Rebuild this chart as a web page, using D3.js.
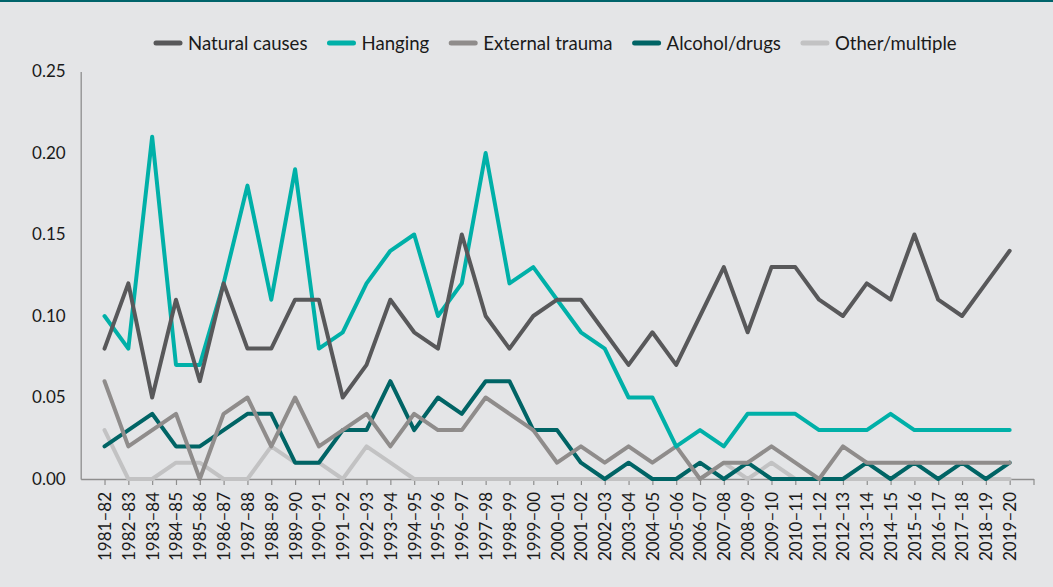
<!DOCTYPE html>
<html>
<head>
<meta charset="utf-8">
<script src="https://cdn.jsdelivr.net/npm/d3@7"></script>
<style>
  html, body { margin: 0; padding: 0; background: #e4e5e7; }
  svg { display: block; }
  text { font-family: Lato, "Liberation Sans", sans-serif; fill: #1a1a1a; }
</style>
</head>
<body>
<svg id="chart" width="1053" height="587"></svg>
<script>
const categories = ["1981–82","1982–83","1983–84","1984–85","1985–86","1986–87","1987–88","1988–89","1989–90","1990–91",
  "1991–92","1992–93","1993–94","1994–95","1995–96","1996–97","1997–98","1998–99","1999–00","2000–01",
  "2001–02","2002–03","2003–04","2004–05","2005–06","2006–07","2007–08","2008–09","2009–10","2010–11",
  "2011–12","2012–13","2013–14","2014–15","2015–16","2016–17","2017–18","2018–19","2019–20"];

const naturalCauses = [0.08,0.12,0.05,0.11,0.06,0.12,0.08,0.08,0.11,0.11,
  0.05,0.07,0.11,0.09,0.08,0.15,0.10,0.08,0.10,0.11,
  0.11,0.09,0.07,0.09,0.07,0.10,0.13,0.09,0.13,0.13,
  0.11,0.10,0.12,0.11,0.15,0.11,0.10,0.12,0.14];
const hanging = [0.10,0.08,0.21,0.07,0.07,0.12,0.18,0.11,0.19,0.08,
  0.09,0.12,0.14,0.15,0.10,0.12,0.20,0.12,0.13,0.11,
  0.09,0.08,0.05,0.05,0.02,0.03,0.02,0.04,0.04,0.04,
  0.03,0.03,0.03,0.04,0.03,0.03,0.03,0.03,0.03];
const externalTrauma = [0.06,0.02,0.03,0.04,0.00,0.04,0.05,0.02,0.05,0.02,
  0.03,0.04,0.02,0.04,0.03,0.03,0.05,0.04,0.03,0.01,
  0.02,0.01,0.02,0.01,0.02,0.00,0.01,0.01,0.02,0.01,
  0.00,0.02,0.01,0.01,0.01,0.01,0.01,0.01,0.01];
const alcoholDrugs = [0.02,0.03,0.04,0.02,0.02,0.03,0.04,0.04,0.01,0.01,
  0.03,0.03,0.06,0.03,0.05,0.04,0.06,0.06,0.03,0.03,
  0.01,0.00,0.01,0.00,0.00,0.01,0.00,0.01,0.00,0.00,
  0.00,0.00,0.01,0.00,0.01,0.00,0.01,0.00,0.01];
const otherMultiple = [0.03,0.00,0.00,0.01,0.01,0.00,0.00,0.02,0.01,0.01,
  0.00,0.02,0.01,0.00,0.00,0.00,0.00,0.00,0.00,0.00,
  0.00,0.00,0.00,0.00,0.00,0.00,0.01,0.00,0.01,0.00,
  0.00,0.00,0.00,0.00,0.00,0.00,0.00,0.00,0.00];

const seriesNames = ["Natural causes","Hanging","External trauma","Alcohol/drugs","Other/multiple"];
const seriesValues = [naturalCauses, hanging, externalTrauma, alcoholDrugs, otherMultiple];
const seriesColors = ["#58585a","#00b0a8","#8f8c8b","#006465","#c2c2c3"];
const yTicks = [0, 0.05, 0.10, 0.15, 0.20, 0.25];

const svg = d3.select("#chart");
const W = 1053, H = 587;

svg.append("rect").attr("width", W).attr("height", H).attr("fill", "#e4e5e7");
svg.append("rect").attr("x", 0).attr("y", 0).attr("width", W).attr("height", 2).attr("fill", "#00646b");

const x = d3.scaleLinear().domain([-1, categories.length]).range([80.7, 1033.5]);
const y = d3.scaleLinear().domain([0, 0.25]).range([479, 71.5]);

// x axis
const xAxis = d3.axisBottom(x)
  .tickValues(d3.range(0, categories.length + 1))
  .tickSize(6)
  .tickSizeOuter(0)
  .tickFormat(i => categories[i] || "");
const gx = svg.append("g").attr("transform", `translate(0,${y(0)})`).call(xAxis);
gx.select(".domain").attr("stroke", "#8e8e8e").attr("stroke-width", 1.3);
gx.selectAll(".tick line").attr("stroke", "#8e8e8e").attr("stroke-width", 1.2);
gx.selectAll(".tick text")
  .attr("font-size", 17)
  .attr("font-family", "Lato, 'Liberation Sans', sans-serif")
  .attr("fill", "#1a1a1a")
  .attr("transform", "rotate(-90)")
  .attr("text-anchor", "end")
  .attr("x", -13)
  .attr("y", 0)
  .attr("dy", "0.35em");

// y axis
const yAxis = d3.axisLeft(y).tickValues(yTicks).tickSize(0).tickPadding(15)
  .tickFormat(d3.format(".2f"));
const gy = svg.append("g").attr("transform", `translate(${x(-1)},0)`).call(yAxis);
gy.select(".domain").attr("stroke", "#8e8e8e").attr("stroke-width", 1.3);
gy.selectAll(".tick text")
  .attr("font-size", 17)
  .attr("font-family", "Lato, 'Liberation Sans', sans-serif")
  .attr("fill", "#1a1a1a");

// lines (drawn in reverse so Natural causes is on top)
const line = d3.line().x((d, i) => x(i)).y(d => y(d));
const order = d3.range(seriesNames.length).reverse();
svg.append("g").selectAll("path")
  .data(order)
  .join("path")
  .attr("d", k => line(seriesValues[k]))
  .attr("fill", "none")
  .attr("stroke", k => seriesColors[k])
  .attr("stroke-width", 4)
  .attr("stroke-linejoin", "round")
  .attr("stroke-linecap", "round");

// legend
const legend = svg.append("g").attr("transform", "translate(0,43)");
let lx = 156;
seriesNames.forEach((name, k) => {
  legend.append("line")
    .attr("x1", lx).attr("x2", lx + 24)
    .attr("y1", 0).attr("y2", 0)
    .attr("stroke", seriesColors[k])
    .attr("stroke-width", 5)
    .attr("stroke-linecap", "round");
  const t = legend.append("text")
    .attr("x", lx + 32)
    .attr("y", 0)
    .attr("dy", "0.35em")
    .attr("font-size", 18.6)
    .text(name);
  const w = t.node().getComputedTextLength();
  lx = lx + 32 + w + 22;
});
</script>
</body>
</html>
